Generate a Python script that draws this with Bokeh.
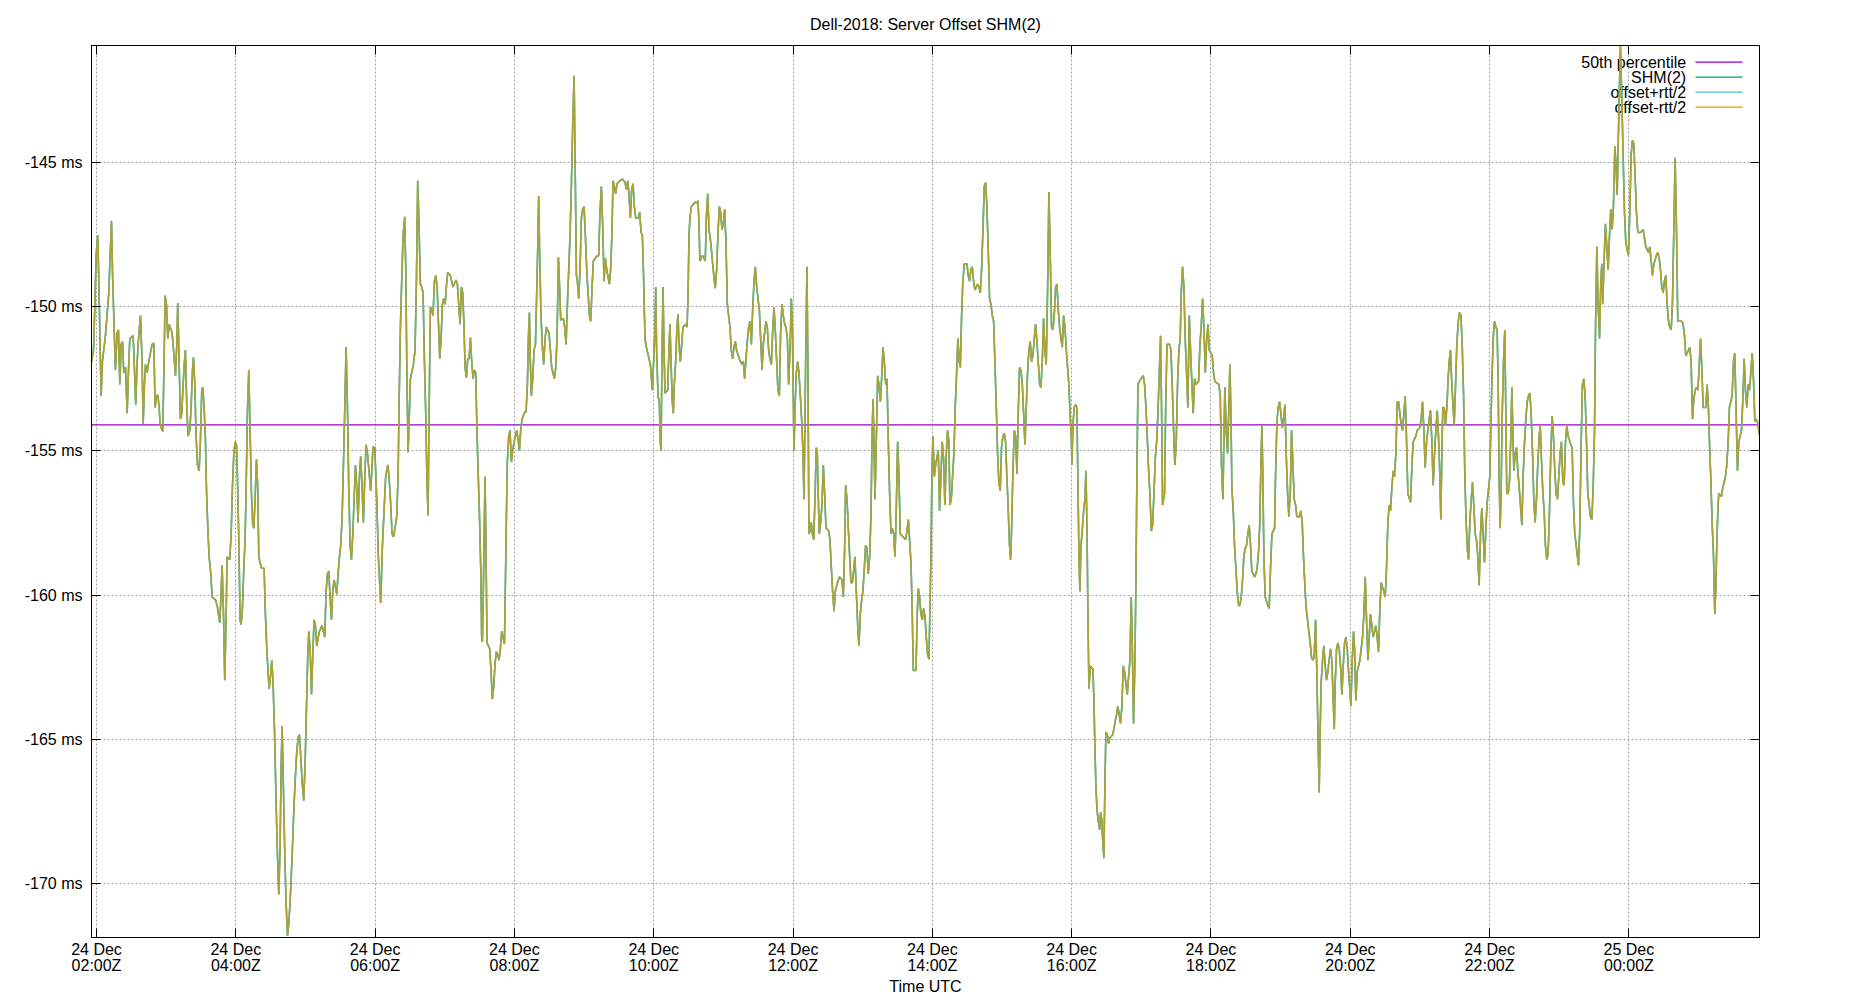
from datetime import datetime, timedelta
import pandas as pd
from bokeh.plotting import figure
from bokeh.models import (Range1d, FixedTicker, DatetimeTickFormatter, PrintfTickFormatter,
                          LinearAxis, DatetimeAxis, Label, BoxAnnotation)
from bokeh.embed import file_html
from bokeh.resources import INLINE

# ---------------- data (minutes after 2018-12-24 00:00 UTC, offset in ms) ----------------
base = datetime(2018, 12, 24, 0, 0)

block_02h = [
    115.8, -151.90, 117.4, -151.51, 118.5, -150.11, 119.7, -148.22, 121.1, -147.53, 122.0, -149.12,
    122.8, -150.71, 124.0, -153.10, 125.1, -151.91, 127.7, -151.01, 130.6, -149.52, 131.7, -148.32,
    132.9, -147.03, 134.0, -149.12, 135.2, -150.71, 136.3, -152.20, 137.8, -150.91, 138.9, -150.81,
    140.1, -152.70, 141.2, -151.31, 142.4, -151.21, 143.5, -152.30, 145.0, -152.10, 146.4, -153.70,
    147.5, -152.30, 148.7, -151.11, 151.6, -151.01, 153.0, -152.50, 153.8, -153.40, 155.0, -151.91,
    156.4, -151.01, 157.9, -150.31, 159.3, -151.91, 160.2, -154.06, 161.3, -152.70, 162.2, -152.00,
    163.6, -152.30, 165.0, -151.91, 167.9, -151.31, 169.4, -151.27, 170.5, -153.50, 171.7, -153.10,
    172.8, -153.06, 174.0, -153.50, 174.8, -154.10, 177.1, -154.33, 178.3, -151.71, 179.1, -149.62,
    180.3, -149.92, 181.4, -151.11, 182.6, -150.61, 185.1, -150.91, 186.6, -151.61, 188.0, -152.40,
    189.2, -151.31, 190.0, -149.88, 191.2, -151.91, 192.3, -153.90, 193.5, -153.70, 194.6, -152.70,
    195.8, -151.91, 196.6, -151.51, 197.8, -153.50, 198.9, -154.49, 200.4, -154.29, 201.5, -153.50,
    202.7, -152.20, 203.5, -151.77, 204.7, -152.70, 205.8, -154.49, 207.0, -155.49, 208.4, -155.69,
    209.5, -154.69, 210.7, -152.90, 211.6, -152.80, 212.7, -153.50, 213.9, -154.69, 214.7, -156.28,
    215.9, -157.68, 217.0, -158.67, 218.5, -159.27, 219.6, -160.07, 222.5, -160.17, 223.9, -160.36,
    226.2, -160.96, 227.4, -159.87, 228.2, -158.97, 229.4, -160.66, 230.5, -162.95, 231.7, -160.66,
    232.5, -158.67, 234.8, -158.77, 236.0, -157.88, 237.1, -156.28, 238.3, -155.09, 239.4, -154.69,
]
block_04h = [
    240.6, -154.79, 241.4, -155.89, 242.6, -158.08, 243.7, -160.86, 244.6, -161.02, 245.7, -160.46,
    246.9, -159.07, 248.0, -158.08, 248.9, -156.28, 250.0, -153.70, 251.2, -152.20, 252.3, -154.29,
    253.5, -156.48, 254.6, -157.58, 255.5, -157.68, 256.6, -156.68, 257.8, -155.29, 258.9, -156.28,
    259.8, -158.67, 262.1, -159.07, 264.4, -159.07, 265.5, -160.66, 266.7, -161.86, 267.8, -162.65,
    268.7, -163.25, 269.8, -162.85, 271.0, -162.26, 272.1, -163.05, 273.3, -164.65, 274.4, -166.64,
    275.6, -168.63, 277.0, -170.38, 278.2, -168.63, 279.0, -166.04, 279.9, -164.55, 281.0, -166.64,
    282.2, -169.02, 283.3, -170.62, 284.5, -171.81, 285.6, -171.41, 286.8, -170.62, 287.9, -169.62,
    289.1, -168.43, 290.2, -167.23, 291.4, -166.24, 292.5, -165.44, 293.7, -164.94, 294.8, -164.84,
    296.0, -165.64, 297.1, -166.43, 298.5, -167.13, 299.7, -165.84, 300.8, -164.05, 302.0, -162.06,
    302.9, -161.26, 304.0, -161.86, 305.2, -163.45, 306.3, -162.06, 307.4, -160.86, 308.6, -161.06,
    309.7, -161.76, 312.0, -161.26, 314.3, -161.06, 316.6, -161.46, 317.8, -159.87, 318.9, -159.27,
    320.1, -159.17, 321.2, -160.07, 322.4, -160.86, 323.5, -159.87, 324.7, -159.47, 327.0, -159.97,
    328.1, -159.27, 329.3, -158.67, 330.4, -158.28, 331.6, -157.28, 332.7, -155.49, 333.9, -153.50,
    335.0, -151.41, 336.2, -153.50, 337.3, -156.28, 338.5, -158.28, 339.6, -158.77, 340.8, -157.88,
    341.9, -156.68, 343.1, -155.49, 344.2, -156.28, 345.3, -157.48, 346.5, -155.89, 347.6, -155.19,
    348.8, -156.28, 349.9, -157.48, 351.1, -155.89, 352.2, -154.79, 353.4, -155.09, 354.5, -155.59,
]
block_06h = [
    356.2, -156.39, 358.2, -154.85, 359.7, -154.89, 361.4, -156.68, 362.8, -158.67, 364.8, -160.27,
    366.3, -158.28, 367.7, -157.08, 369.1, -155.89, 370.9, -155.49, 372.0, -155.89, 373.2, -156.68,
    374.6, -157.88, 375.8, -157.98, 377.2, -157.68, 378.6, -157.28, 379.8, -155.89, 380.6, -153.50,
    381.8, -150.71, 382.9, -149.12, 384.1, -147.53, 385.5, -146.89, 386.4, -148.72, 387.5, -152.70,
    388.4, -155.05, 389.5, -153.70, 390.4, -152.50, 391.5, -152.30, 393.0, -152.01, 394.4, -151.51,
    395.6, -149.12, 396.7, -145.64, 397.9, -147.33, 399.0, -149.22, 400.2, -149.32, 401.3, -149.52,
    402.5, -151.91, 403.6, -153.70, 404.5, -155.69, 405.6, -157.24, 406.5, -153.70, 407.6, -150.02,
    408.8, -150.12, 409.9, -150.31, 411.1, -149.12, 412.2, -148.92, 413.4, -149.32, 414.5, -150.51,
    415.7, -151.81, 416.8, -151.11, 418.0, -149.92, 419.1, -149.72, 420.3, -149.92, 421.4, -149.32,
    422.5, -148.82, 424.8, -148.92, 427.1, -149.32, 429.7, -149.08, 430.9, -149.22, 432.0, -149.92,
    433.2, -150.61, 434.3, -149.32, 435.5, -149.52, 436.6, -150.71, 437.5, -152.11, 438.6, -152.46,
    439.8, -151.81, 440.9, -151.81, 442.1, -151.07, 443.2, -151.91, 444.4, -152.50, 445.5, -152.20,
    446.7, -152.30, 447.5, -153.90, 448.7, -155.69, 449.8, -157.08, 451.0, -159.07, 451.8, -161.46,
    452.4, -161.62, 453.3, -159.67, 454.1, -157.48, 454.7, -155.89, 455.6, -158.67, 456.4, -161.66,
    457.6, -161.76, 458.7, -161.86, 459.9, -162.65, 461.0, -163.61, 462.2, -163.15, 463.3, -162.36,
    464.5, -161.96, 465.6, -162.06, 466.8, -162.26, 467.9, -161.86, 469.1, -161.26, 470.2, -161.46,
    471.4, -161.70, 472.2, -159.67, 473.1, -157.28, 473.9, -155.39, 475.1, -154.49, 476.2, -154.29,
    477.4, -155.39, 478.5, -154.99, 479.7, -154.69,
]
block_08h = [
    480.8, -154.49, 482.0, -154.29, 483.1, -154.59, 484.3, -154.99, 485.4, -154.29, 486.6, -153.90,
    488.9, -153.66, 490.0, -153.66, 491.2, -152.70, 492.0, -151.11, 492.9, -150.21, 493.7, -151.91,
    494.6, -153.10, 495.8, -152.50, 496.9, -151.51, 498.1, -151.31, 499.2, -149.52, 500.1, -147.93,
    500.9, -146.17, 501.8, -148.32, 502.9, -150.31, 504.1, -151.41, 505.2, -152.01, 506.4, -151.11,
    507.5, -150.71, 509.8, -150.91, 511.0, -151.51, 512.1, -152.11, 514.4, -152.50, 515.6, -152.11,
    516.7, -151.11, 517.9, -148.28, 518.7, -149.12, 519.9, -150.47, 522.2, -150.41, 523.3, -150.71,
    524.5, -151.31, 525.6, -149.92, 526.8, -148.72, 527.9, -147.53, 529.1, -145.74, 530.2, -143.75,
    531.4, -142.00, 532.5, -145.74, 533.4, -148.92, 534.2, -149.12, 535.4, -149.72, 536.5, -148.72,
    537.7, -146.93, 538.8, -146.63, 540.0, -146.53, 541.1, -147.53, 542.3, -148.72, 543.4, -149.52,
    544.6, -150.31, 545.7, -150.51, 546.9, -149.32, 548.0, -148.42, 550.3, -148.28, 552.6, -148.22,
    553.7, -146.73, 554.9, -145.84, 556.0, -147.13, 557.2, -149.12, 558.3, -148.32, 559.5, -148.72,
    561.8, -149.22, 562.9, -148.72, 564.1, -147.33, 564.9, -145.64, 566.1, -145.84, 567.2, -146.09,
    568.4, -145.74, 570.7, -145.64, 573.0, -145.58, 575.3, -145.70, 576.4, -145.94, 577.6, -145.64,
    578.7, -146.13, 579.9, -146.93, 581.0, -145.94, 582.2, -145.74, 583.3, -146.53, 584.5, -146.93,
    586.8, -146.93, 587.9, -146.73, 589.1, -147.43, 590.2, -147.53, 591.1, -148.72, 591.9, -150.12,
    592.5, -151.11, 593.7, -151.41, 594.8, -151.61, 597.1, -152.01,
]
block_10h = [
    598.8, -152.90, 600.8, -151.11, 601.7, -149.32, 602.5, -151.51, 603.7, -153.10, 604.8, -153.30,
    605.7, -154.69, 606.3, -154.99, 607.1, -151.91, 608.0, -149.32, 608.8, -151.31, 609.7, -153.00,
    612.0, -152.90, 613.1, -151.51, 614.0, -150.61, 614.9, -151.91, 616.0, -153.30, 616.9, -153.70,
    617.7, -152.70, 618.9, -151.91, 620.0, -150.71, 620.9, -150.27, 621.8, -151.31, 622.9, -151.91,
    624.1, -151.31, 625.2, -150.71, 627.5, -150.61, 628.7, -150.71, 629.5, -149.72, 630.4, -147.53,
    631.2, -146.93, 632.4, -146.53, 634.7, -146.43, 635.8, -146.37, 637.0, -146.43, 638.1, -146.33,
    639.0, -147.13, 639.8, -148.42, 642.1, -148.22, 644.4, -148.42, 645.3, -146.93, 646.5, -146.09,
    647.6, -147.33, 648.7, -147.63, 649.9, -148.12, 651.0, -148.62, 652.2, -149.12, 653.0, -149.36,
    654.2, -148.72, 655.3, -147.53, 656.5, -146.53, 657.6, -146.73, 658.8, -147.33, 659.9, -147.13,
    661.1, -146.63, 662.2, -147.73, 663.4, -149.92, 664.5, -150.31, 665.7, -150.71, 666.8, -151.51,
    668.0, -151.81, 669.1, -151.41, 670.3, -151.21, 671.4, -151.51, 673.7, -151.81, 676.0, -152.01,
    677.2, -151.91, 678.3, -152.50, 679.5, -151.81, 680.6, -151.21, 681.8, -150.71, 682.9, -150.51,
    684.1, -151.31, 685.2, -150.12, 686.4, -149.12, 687.5, -148.62, 688.7, -149.32, 689.8, -149.72,
    691.0, -150.12, 692.1, -151.11, 693.3, -152.20, 694.4, -151.31, 695.5, -150.91, 696.7, -150.51,
    697.8, -150.71, 699.0, -151.51, 700.1, -151.81, 701.3, -152.01, 702.4, -150.91, 703.6, -150.02,
    704.7, -150.81, 705.9, -151.91, 707.0, -152.90, 708.2, -153.10, 709.3, -150.91, 710.5, -149.92,
    711.6, -150.31, 712.8, -150.61, 713.9, -150.71, 715.1, -151.11, 716.2, -152.70, 717.4, -151.51,
    718.5, -149.72, 719.4, -150.71,
]
block_12h = [
    720.2, -153.10, 720.8, -154.99, 721.7, -153.50, 722.8, -152.30, 724.0, -151.91, 725.1, -152.30,
    726.3, -153.10, 727.4, -153.90, 728.6, -155.09, 729.4, -156.68, 730.3, -153.90, 731.1, -151.11,
    732.0, -148.62, 732.9, -152.70, 733.7, -157.88, 734.6, -157.78, 735.7, -157.48, 736.6, -157.88,
    737.8, -158.08, 738.9, -156.68, 740.0, -154.89, 740.9, -155.09, 741.8, -156.68, 742.6, -157.88,
    743.8, -157.48, 744.9, -156.88, 746.1, -155.49, 747.2, -156.48, 748.4, -157.68, 750.7, -157.78,
    751.8, -158.08, 753.0, -159.07, 754.1, -159.87, 755.3, -160.56, 756.4, -159.87, 757.6, -159.67,
    759.9, -159.37, 762.2, -159.47, 763.3, -160.07, 764.5, -158.28, 765.3, -156.19, 766.5, -156.68,
    767.6, -157.68, 768.8, -158.67, 769.9, -159.57, 771.1, -159.57, 772.2, -159.17, 773.3, -158.67,
    774.5, -159.87, 775.7, -161.06, 776.8, -161.76, 777.9, -160.66, 779.1, -160.17, 780.2, -159.87,
    781.4, -159.07, 782.5, -158.28, 783.7, -158.38, 784.8, -159.27, 786.0, -158.67, 787.1, -157.28,
    788.0, -154.69, 788.9, -153.20, 789.7, -154.69, 790.6, -156.68, 791.7, -154.69, 792.9, -152.40,
    794.0, -152.70, 795.2, -153.30, 796.3, -152.50, 797.5, -151.41, 798.6, -151.91, 799.8, -152.70,
    800.9, -152.50, 802.1, -154.69, 803.2, -156.48, 804.4, -157.88, 805.5, -157.68, 806.7, -157.88,
    807.8, -158.67, 808.9, -157.08, 810.1, -154.69, 811.2, -155.89, 812.4, -157.88, 814.7, -157.98,
    817.0, -158.08, 818.1, -157.78, 819.3, -157.38, 820.4, -158.08, 821.6, -158.87, 822.7, -160.66,
    823.6, -162.61, 825.9, -162.61, 827.0, -160.66, 827.9, -159.77, 829.0, -160.07, 830.2, -160.66,
    831.3, -160.86, 832.5, -160.46, 833.6, -160.76, 834.8, -161.46, 835.9, -162.06, 837.1, -162.22,
    838.8, -158.67, 839.6, -155.89,
]
block_14h = [
    840.5, -154.49, 841.7, -155.89, 842.8, -155.49, 845.1, -154.99, 846.2, -157.08, 847.4, -155.89,
    848.5, -154.69, 849.7, -155.29, 850.8, -156.88, 852.0, -155.09, 853.1, -154.29, 854.3, -154.69,
    855.1, -156.88, 856.3, -156.68, 857.4, -155.89, 858.6, -155.09, 859.7, -153.50, 860.9, -152.30,
    862.0, -151.11, 863.2, -151.91, 864.1, -152.11, 865.2, -150.31, 866.3, -149.12, 867.5, -148.52,
    869.8, -148.52, 870.9, -148.92, 872.1, -149.12, 873.2, -148.72, 874.4, -148.62, 875.5, -149.12,
    876.7, -149.42, 879.0, -149.22, 880.1, -149.32, 881.3, -149.52, 882.4, -148.72, 883.6, -147.33,
    884.7, -145.84, 885.9, -145.70, 887.0, -146.53, 888.2, -148.12, 889.3, -149.72, 890.5, -149.92,
    891.6, -150.31, 892.8, -150.51, 893.9, -151.91, 895.1, -153.50, 896.2, -155.09, 897.3, -156.09,
    898.5, -156.38, 899.6, -154.89, 900.8, -154.49, 901.9, -154.39, 903.1, -154.69, 904.2, -155.89,
    905.4, -157.08, 906.5, -158.28, 907.4, -158.77, 908.3, -157.68, 909.4, -155.69, 910.6, -154.29,
    911.7, -154.49, 912.9, -155.79, 914.0, -153.70, 915.1, -152.11, 916.3, -152.20, 917.5, -152.70,
    918.6, -153.70, 919.8, -154.79, 920.9, -153.50, 922.0, -152.30, 923.2, -151.51, 924.3, -151.21,
    925.5, -151.91, 926.6, -151.71, 927.8, -151.11, 928.9, -150.61, 930.1, -151.21, 931.2, -151.91,
    932.4, -152.70, 933.5, -152.80, 934.7, -151.91, 935.8, -150.41, 937.0, -151.51, 938.1, -152.01,
    939.3, -149.32, 940.4, -146.03, 941.6, -148.32, 942.7, -150.71, 943.9, -150.81, 945.0, -150.31,
    946.2, -149.32, 947.3, -149.22, 948.5, -150.12, 949.6, -150.71, 950.8, -151.11, 951.9, -151.41,
    953.1, -150.31, 954.2, -150.71, 955.4, -151.51, 956.5, -152.11, 957.6, -152.70, 958.8, -153.90,
    959.7, -154.49,
]
block_16h = [
    960.2, -155.49, 961.1, -154.10, 962.2, -153.50, 963.4, -153.40, 964.5, -153.50, 965.4, -156.09,
    966.3, -158.67, 967.1, -159.87, 968.0, -158.28, 969.1, -157.78, 970.3, -157.08, 971.4, -156.68,
    972.3, -155.69, 973.2, -157.68, 974.0, -160.66, 974.9, -163.25, 976.0, -162.46, 978.3, -162.56,
    979.2, -163.65, 980.0, -165.24, 980.9, -166.64, 981.8, -167.43, 982.9, -167.83, 984.1, -168.13,
    984.9, -167.53, 986.1, -167.83, 986.9, -168.63, 987.8, -169.12, 988.6, -166.64, 989.5, -164.75,
    990.7, -164.84, 991.8, -165.14, 993.0, -164.94, 995.3, -164.84, 996.4, -164.65, 997.6, -164.35,
    998.7, -164.15, 999.8, -163.85, 1001.0, -164.15, 1002.1, -164.45, 1003.3, -163.85, 1004.4, -162.46,
    1005.6, -162.65, 1006.7, -163.05, 1007.9, -163.45, 1009.0, -162.85, 1010.2, -162.26, 1011.3, -160.07,
    1012.2, -161.66, 1013.3, -164.45, 1014.5, -162.26, 1015.3, -159.67, 1016.2, -155.89, 1017.1, -152.70,
    1018.2, -152.60, 1020.5, -152.46, 1021.7, -152.40, 1022.8, -152.70, 1024.0, -153.50, 1025.1, -154.49,
    1026.3, -155.69, 1027.4, -156.48, 1028.6, -157.78, 1029.7, -157.58, 1030.9, -156.48, 1032.0, -155.29,
    1033.2, -154.69, 1034.3, -153.70, 1035.5, -152.30, 1036.6, -151.01, 1037.5, -153.70, 1038.3, -156.88,
    1039.2, -156.68, 1040.0, -156.48, 1040.9, -153.70, 1042.1, -151.31, 1044.3, -151.31, 1045.5, -151.51,
    1046.6, -152.70, 1047.8, -154.29, 1048.9, -155.49, 1050.1, -154.69, 1051.2, -152.70, 1052.4, -151.51,
    1053.5, -151.11, 1054.4, -149.52, 1055.5, -148.62, 1056.7, -149.32, 1057.8, -151.11, 1059.0, -152.30,
    1060.1, -153.50, 1061.3, -150.31, 1062.4, -151.51, 1063.6, -152.70, 1064.7, -153.70, 1065.9, -152.50,
    1067.0, -152.70, 1069.3, -152.60, 1070.5, -151.31, 1071.6, -150.71, 1072.8, -149.72, 1073.9, -150.71,
    1075.1, -152.30, 1076.2, -151.21, 1077.4, -150.61, 1078.5, -151.51,
]
block_18h = [
    1079.9, -151.61, 1081.1, -151.71, 1082.2, -152.30, 1083.4, -152.60, 1086.8, -152.70, 1088.0, -153.10,
    1089.1, -155.49, 1090.3, -156.68, 1091.1, -154.69, 1092.0, -152.80, 1093.1, -154.29, 1094.3, -155.09,
    1095.4, -153.50, 1096.3, -152.01, 1097.2, -153.70, 1098.0, -156.28, 1099.2, -157.08, 1100.3, -158.28,
    1101.5, -159.07, 1102.6, -159.87, 1103.8, -160.36, 1104.9, -160.36, 1106.1, -160.07, 1107.2, -159.47,
    1108.3, -158.67, 1109.5, -158.38, 1110.6, -158.28, 1111.8, -157.88, 1112.9, -157.58, 1114.1, -158.28,
    1115.2, -159.17, 1117.5, -159.37, 1118.7, -159.27, 1119.8, -159.07, 1121.0, -158.48, 1122.1, -157.48,
    1123.0, -155.49, 1123.9, -154.14, 1124.7, -155.89, 1125.6, -158.67, 1126.7, -160.07, 1129.0, -160.36,
    1130.2, -160.46, 1131.3, -159.07, 1132.5, -157.88, 1134.8, -157.68, 1135.6, -155.89, 1136.8, -154.00,
    1137.9, -153.50, 1139.1, -153.30, 1140.2, -153.70, 1141.4, -154.20, 1142.5, -153.90, 1143.7, -153.40,
    1144.8, -155.09, 1146.0, -156.48, 1147.1, -157.28, 1148.3, -156.48, 1149.4, -154.29, 1150.6, -155.49,
    1151.7, -156.68, 1152.9, -156.88, 1154.0, -157.28, 1156.3, -157.28, 1157.4, -157.08, 1158.6, -157.48,
    1159.7, -158.67, 1160.9, -159.67, 1162.0, -160.46, 1163.2, -160.86, 1164.3, -161.26, 1165.5, -161.66,
    1166.6, -162.16, 1167.8, -162.26, 1168.9, -162.16, 1170.1, -160.86, 1171.2, -162.65, 1172.4, -165.24,
    1173.2, -166.84, 1174.1, -164.65, 1174.9, -163.05, 1176.1, -162.26, 1177.2, -161.76, 1178.4, -162.46,
    1179.5, -162.95, 1180.7, -162.65, 1181.8, -162.26, 1183.0, -161.86, 1184.1, -162.26, 1185.3, -163.65,
    1186.2, -164.65, 1187.0, -163.05, 1188.2, -161.86, 1189.3, -161.66, 1190.5, -161.86, 1191.6, -162.46,
    1192.8, -163.45, 1193.9, -162.46, 1195.1, -161.66, 1196.2, -161.46, 1197.4, -161.86, 1198.5, -162.65,
    1199.6, -163.25,
]
block_20h = [
    1200.5, -163.85, 1201.7, -162.26, 1202.8, -161.26, 1203.7, -161.86, 1204.8, -163.65, 1206.0, -162.65,
    1208.3, -162.26, 1209.4, -161.86, 1210.6, -161.46, 1211.7, -160.66, 1212.9, -159.37, 1214.0, -160.86,
    1215.2, -162.26, 1216.3, -161.46, 1217.4, -160.66, 1218.6, -161.06, 1219.7, -161.46, 1220.9, -161.26,
    1222.0, -161.06, 1223.2, -161.46, 1224.3, -161.96, 1225.5, -160.46, 1226.6, -159.57, 1228.9, -159.87,
    1230.1, -160.07, 1231.2, -159.07, 1232.4, -157.48, 1233.5, -156.88, 1234.7, -157.08, 1235.8, -156.28,
    1237.0, -155.69, 1238.1, -155.89, 1239.3, -155.09, 1240.4, -153.30, 1241.6, -153.30, 1242.7, -153.70,
    1243.9, -154.10, 1245.0, -154.29, 1246.2, -153.70, 1247.3, -153.10, 1248.5, -154.69, 1249.6, -156.48,
    1251.9, -156.78, 1253.1, -155.49, 1254.2, -154.69, 1256.5, -154.49, 1257.6, -154.29, 1259.9, -154.20,
    1261.1, -153.90, 1262.2, -153.30, 1263.4, -154.29, 1264.5, -155.59, 1265.7, -154.69, 1266.8, -154.29,
    1268.0, -153.90, 1269.1, -153.60, 1270.3, -154.69, 1271.4, -156.19, 1272.6, -155.09, 1273.7, -154.29,
    1274.9, -153.60, 1276.0, -154.49, 1277.2, -155.89, 1278.0, -157.38, 1278.9, -155.09, 1279.7, -153.50,
    1280.9, -153.50, 1282.0, -154.10, 1283.2, -153.50, 1284.3, -152.50, 1285.2, -151.91, 1286.3, -151.51,
    1287.5, -152.70, 1288.6, -153.50, 1289.5, -154.10, 1290.7, -152.70, 1291.8, -151.31, 1293.0, -150.51,
    1294.1, -150.21, 1295.3, -150.31, 1296.4, -151.31, 1297.6, -153.10, 1298.7, -155.89, 1299.8, -157.48,
    1301.0, -158.48, 1301.9, -158.77, 1303.0, -157.48, 1304.2, -156.68, 1305.3, -156.09, 1306.4, -156.88,
    1307.6, -157.88, 1308.7, -158.08, 1309.9, -158.67, 1311.0, -159.67, 1312.2, -157.88, 1313.3, -156.98,
    1314.5, -157.88, 1315.6, -158.87, 1316.8, -157.68, 1317.9, -156.78, 1320.2, -155.89,
]
block_22h = [
    1321.9, -152.70, 1323.1, -151.11, 1324.2, -150.51, 1325.4, -150.71, 1326.5, -150.81, 1327.4, -152.70,
    1328.2, -155.89, 1329.1, -157.68, 1330.0, -156.28, 1330.8, -153.90, 1332.0, -151.91, 1333.1, -150.81,
    1334.0, -153.70, 1334.8, -156.48, 1336.0, -156.48, 1337.1, -156.09, 1338.3, -154.49, 1339.2, -152.80,
    1340.0, -154.29, 1340.9, -155.69, 1342.0, -155.09, 1343.2, -154.89, 1344.3, -155.69, 1345.5, -156.28,
    1346.6, -156.88, 1347.8, -157.58, 1348.9, -155.89, 1350.1, -154.69, 1351.2, -153.90, 1352.4, -153.30,
    1353.5, -153.10, 1354.7, -153.00, 1355.8, -153.70, 1357.0, -155.09, 1358.1, -156.68, 1359.2, -157.48,
    1360.4, -156.68, 1361.5, -155.49, 1362.7, -154.49, 1363.6, -154.14, 1364.7, -155.29, 1365.9, -156.48,
    1367.0, -157.08, 1368.1, -158.28, 1369.3, -158.77, 1370.4, -158.57, 1371.6, -157.08, 1372.7, -155.09,
    1373.9, -153.80, 1375.0, -154.49, 1376.2, -155.69, 1377.3, -156.48, 1378.5, -156.68, 1379.6, -155.89,
    1380.8, -155.09, 1381.9, -154.69, 1383.1, -156.09, 1384.2, -156.19, 1385.4, -154.69, 1386.5, -154.14,
    1387.7, -154.49, 1390.0, -154.79, 1391.1, -154.89, 1392.3, -156.88, 1393.4, -157.88, 1394.6, -158.28,
    1395.7, -158.67, 1396.6, -158.97, 1397.7, -157.68, 1398.9, -154.69, 1400.0, -152.70, 1401.2, -152.50,
    1402.3, -153.10, 1403.5, -154.69, 1404.6, -156.48, 1405.8, -156.88, 1406.9, -157.28, 1408.1, -157.38,
    1409.2, -156.28, 1410.4, -154.29, 1411.2, -150.91, 1412.4, -147.93, 1413.5, -149.92, 1414.7, -151.11,
    1415.8, -149.12, 1416.7, -148.52, 1417.5, -149.92, 1418.7, -148.32, 1419.8, -147.13, 1421.0, -147.93,
    1422.1, -148.72, 1423.3, -147.53, 1424.4, -146.63, 1425.6, -147.33, 1426.7, -146.53, 1427.9, -144.44,
    1428.7, -144.94, 1429.9, -146.13, 1431.0, -143.95, 1431.9, -142.35, 1432.7, -140.96, 1433.9, -142.75,
    1435.0, -144.74, 1436.2, -146.73, 1437.3, -147.73, 1438.5, -148.03, 1439.6, -148.22,
]
block_00h = [
    1440.8, -146.73, 1441.9, -144.74, 1443.1, -144.24, 1444.2, -144.34, 1445.4, -145.54, 1446.5, -146.73,
    1447.7, -147.43, 1450.0, -147.43, 1452.3, -147.33, 1453.4, -147.63, 1454.6, -147.93, 1456.9, -148.12,
    1458.0, -147.93, 1459.2, -148.42, 1460.3, -148.92, 1461.5, -148.52, 1463.8, -148.22, 1464.9, -148.12,
    1466.1, -148.32, 1467.2, -148.72, 1468.3, -149.32, 1469.5, -149.52, 1470.6, -149.12, 1471.8, -148.92,
    1472.9, -149.92, 1474.1, -150.51, 1475.2, -150.71, 1476.4, -150.81, 1477.5, -149.92, 1478.7, -147.33,
    1479.8, -144.84, 1481.0, -147.33, 1482.1, -150.51, 1485.6, -150.51, 1486.7, -150.61, 1487.9, -151.01,
    1489.0, -151.71, 1490.2, -151.61, 1492.5, -151.41, 1493.6, -151.91, 1494.8, -153.90, 1495.9, -153.20,
    1497.1, -152.90, 1498.2, -152.80, 1499.4, -152.90, 1500.5, -152.11, 1501.7, -151.11, 1502.8, -152.11,
    1504.0, -153.50, 1506.2, -153.50, 1507.4, -152.70, 1508.5, -153.50, 1509.4, -154.69, 1510.5, -155.89,
    1511.7, -157.48, 1512.9, -158.67, 1514.0, -160.66, 1514.9, -159.67, 1515.7, -158.28, 1516.6, -157.08,
    1517.4, -156.48, 1519.7, -156.58, 1520.9, -156.28, 1523.2, -155.89, 1524.3, -155.49, 1525.5, -154.69,
    1526.6, -153.50, 1528.9, -153.10, 1530.1, -151.91, 1531.2, -151.61, 1532.4, -153.70, 1533.5, -155.69,
    1534.7, -154.69, 1537.0, -154.29, 1538.1, -153.30, 1539.3, -151.81, 1540.4, -152.90, 1541.6, -153.50,
    1542.7, -152.70, 1543.9, -152.90, 1545.0, -152.30, 1546.2, -151.61, 1547.3, -152.50, 1548.5, -153.99,
    1549.6, -153.90, 1550.7, -153.99, 1551.9, -154.29, 1552.5, -154.45,
]

rtt_ms = 0.0                # SHM refclock: round-trip time is zero
percentile_50 = -154.10     # 50th percentile of the offset (ms)
view_start_min = 115.7
view_end_min = 1552.5
y_min, y_max = -171.87, -140.95

x_tick_labels = ["2018-12-24 02:00", "2018-12-24 04:00", "2018-12-24 06:00", "2018-12-24 08:00",
                 "2018-12-24 10:00", "2018-12-24 12:00", "2018-12-24 14:00", "2018-12-24 16:00",
                 "2018-12-24 18:00", "2018-12-24 20:00", "2018-12-24 22:00", "2018-12-25 00:00"]
y_ticks = [-170, -165, -160, -155, -150, -145]

series_names = ["50th percentile", "SHM(2)", "offset+rtt/2", "offset-rtt/2"]
series_colors = ["#9400d3", "#009e73", "#56b4e9", "#e69f00"]

# ---------------- assemble ----------------
blocks = [block_02h, block_04h, block_06h, block_08h, block_10h, block_12h,
          block_14h, block_16h, block_18h, block_20h, block_22h, block_00h]
flat = [v for b in blocks for v in b]
t_min = flat[0::2]
offset_ms = flat[1::2]
times = [base + timedelta(minutes=m) for m in t_min]
shm2 = offset_ms
plus_rtt = [v + rtt_ms / 2 for v in offset_ms]
minus_rtt = [v - rtt_ms / 2 for v in offset_ms]

t_start = base + timedelta(minutes=view_start_min)
t_end = base + timedelta(minutes=view_end_min)

FONT = "Liberation Sans"

p = figure(width=1842, height=1000, x_axis_type="datetime",
           x_range=Range1d(start=t_start, end=t_end), y_range=Range1d(start=y_min, end=y_max),
           output_backend="svg", toolbar_location=None,
           min_border_left=91, min_border_right=83, min_border_top=45, min_border_bottom=63,
           title="Dell-2018: Server Offset SHM(2)")
p.background_fill_color = "white"
p.border_fill_color = "white"
p.outline_line_color = "black"
p.outline_line_width = 1

p.title.align = "center"
p.title.text_font = FONT
p.title.text_font_size = "16px"
p.title.text_font_style = "normal"
p.title.text_color = "black"
p.title.standoff = 26

xticker = FixedTicker(ticks=[pd.Timestamp(s).value // 10**6 for s in x_tick_labels])
yticker = FixedTicker(ticks=y_ticks)
fmt = "%d %b\n%H:%MZ"
xfmt = DatetimeTickFormatter(minutes=fmt, hourmin=fmt, hours=fmt, days=fmt)


def style_axis(ax):
    ax.major_tick_in = 9
    ax.major_tick_out = 0
    ax.minor_tick_in = 0
    ax.minor_tick_out = 0
    ax.axis_line_color = "black"
    ax.major_tick_line_color = "black"
    ax.minor_tick_line_color = None
    ax.major_label_text_font = FONT
    ax.major_label_text_font_size = "16px"
    ax.major_label_text_color = "black"


xa = p.xaxis[0]
xa.ticker = xticker
xa.formatter = xfmt
style_axis(xa)
xa.major_label_standoff = 3
xa.major_label_text_line_height = 0.95
xa.axis_label = "Time UTC"
xa.axis_label_text_font = FONT
xa.axis_label_text_font_size = "16px"
xa.axis_label_text_font_style = "normal"
xa.axis_label_text_color = "black"
xa.axis_label_standoff = 1

ya = p.yaxis[0]
ya.ticker = yticker
ya.formatter = PrintfTickFormatter(format="%d ms")
style_axis(ya)
ya.major_label_standoff = 9

# mirrored tick marks (no labels) on top and right, as in the original
top_ax = DatetimeAxis(ticker=xticker, formatter=xfmt)
style_axis(top_ax)
top_ax.major_label_text_font_size = "0px"
top_ax.major_label_text_color = None
top_ax.major_label_standoff = 0
p.add_layout(top_ax, "above")

right_ax = LinearAxis(ticker=yticker)
style_axis(right_ax)
right_ax.major_label_text_font_size = "0px"
right_ax.major_label_text_color = None
right_ax.major_label_standoff = 0
p.add_layout(right_ax, "right")

for g in (p.xgrid[0], p.ygrid[0]):
    g.grid_line_color = "#a0a0a0"
    g.grid_line_dash = "2 2"
    g.grid_line_width = 1
p.xgrid[0].ticker = xticker
p.ygrid[0].ticker = yticker

# ---------------- series ----------------
p.line(x=[t_start, t_end], y=[percentile_50, percentile_50], line_color=series_colors[0], line_width=1.2)
p.line(x=times, y=shm2, line_color=series_colors[1], line_width=1.6)
p.line(x=times, y=plus_rtt, line_color=series_colors[2], line_width=1.6, line_alpha=0.5)
p.line(x=times, y=minus_rtt, line_color=series_colors[3], line_width=1.5, line_alpha=0.7)

# ---------------- legend (gnuplot style: text left of the sample) ----------------
for i, (name, col) in enumerate(zip(series_names, series_colors)):
    yy = 875.3 - 15 * i
    p.add_layout(Label(x=1594.7, y=yy, x_units="screen", y_units="screen", text=name,
                       text_align="right", text_baseline="middle", text_font=FONT,
                       text_font_size="16px", text_color="black", level="underlay"))
    p.add_layout(BoxAnnotation(left=1604, right=1651, bottom=yy - 0.6, top=yy + 0.6,
                               left_units="screen", right_units="screen",
                               bottom_units="screen", top_units="screen",
                               fill_color=col, fill_alpha=1.0, line_color=None,
                               level="underlay"))

open("out.html", "w").write(file_html(p, INLINE))
